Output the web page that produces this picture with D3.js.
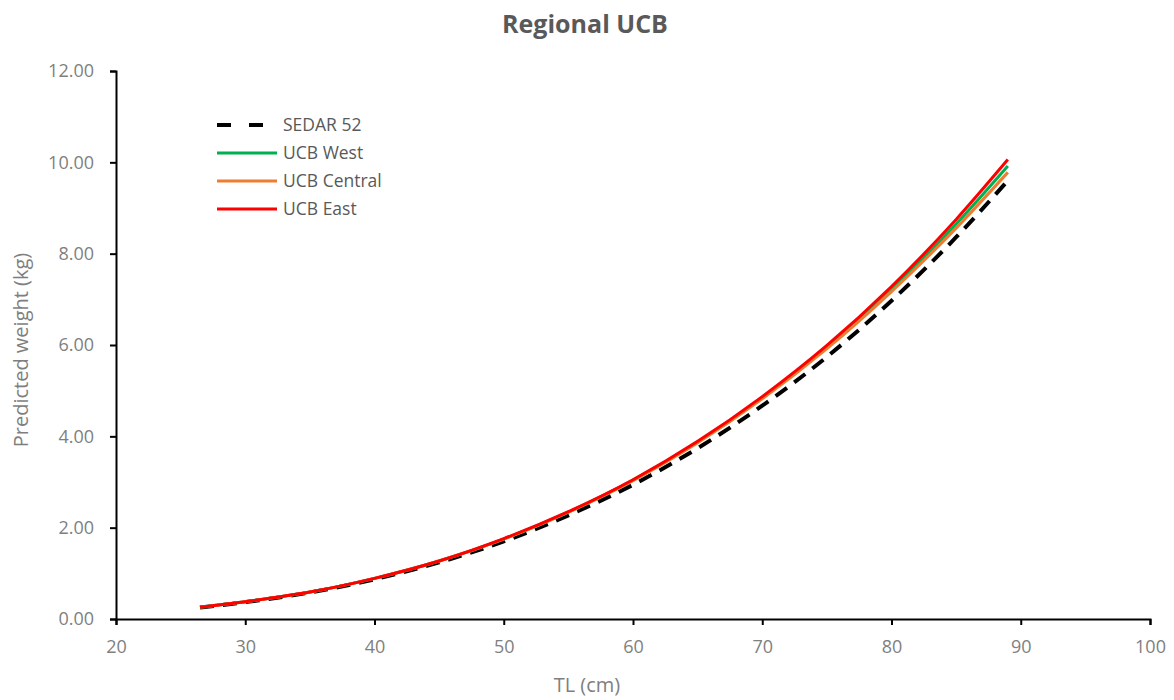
<!DOCTYPE html>
<html>
  <head>
    <meta charset="UTF-8">
    <title>Regional UCB</title>
    <style>
      body { margin: 0; background: #fff; }
      text { font-family: "Open Sans", sans-serif; }
      .tick text { fill: #7f7f7f; font-size: 18px; }
      .tick line, .domain { stroke: #000; stroke-width: 2; }
    </style>
  </head>
  <body>
    <div id="chart"></div>
    <script src="https://d3js.org/d3.v7.min.js"></script>
    <script>
      // total length (cm) where values were read
      const tl = [26.5, 30, 35, 40, 45, 50, 55, 60, 65, 70, 75, 80, 85, 89];

      // predicted weight (kg)
      const sedar52 = [0.25, 0.37, 0.58, 0.87, 1.24, 1.70, 2.27, 2.94, 3.74, 4.67, 5.74, 6.97, 8.36, 9.60];
      const ucbWest = [0.26, 0.38, 0.59, 0.89, 1.27, 1.75, 2.34, 3.04, 3.87, 4.84, 5.96, 7.22, 8.65, 9.92];
      const ucbCentral = [0.26, 0.38, 0.59, 0.89, 1.27, 1.75, 2.34, 3.03, 3.86, 4.82, 5.92, 7.17, 8.56, 9.78];
      const ucbEast = [0.26, 0.38, 0.59, 0.89, 1.27, 1.76, 2.35, 3.05, 3.89, 4.87, 5.99, 7.28, 8.75, 10.06];

      const seriesNames = ["SEDAR 52", "UCB West", "UCB Central", "UCB East"];
      const seriesColors = ["#000000", "#00b050", "#ed7d31", "#ff0000"];

      const xTicks = [20, 30, 40, 50, 60, 70, 80, 90, 100];
      const yTicks = [0, 2, 4, 6, 8, 10, 12];

      const width = 1174, height = 700;
      const svg = d3.select("#chart").append("svg")
        .attr("width", width).attr("height", height);

      const x = d3.scaleLinear().domain([20, 100]).range([116, 1150]);
      const y = d3.scaleLinear().domain([0, 12]).range([619, 71]);

      svg.append("g")
        .attr("transform", `translate(0,${y(0)})`)
        .call(d3.axisBottom(x).tickValues(xTicks).tickSize(6).tickSizeOuter(6).tickPadding(12))
        .selectAll(".tick text").attr("dy", "0.9em");

      svg.append("g")
        .attr("transform", `translate(${x(20)},0)`)
        .call(d3.axisLeft(y).tickValues(yTicks).tickSize(6).tickSizeOuter(6).tickPadding(16).tickFormat(d3.format(".2f")));

      const allSeries = [sedar52, ucbWest, ucbCentral, ucbEast];
      const line = d3.line().x((d, i) => x(tl[i])).y(d => y(d)).curve(d3.curveMonotoneX);

      allSeries.forEach((s, k) => {
        svg.append("path")
          .datum(s)
          .attr("d", line)
          .attr("fill", "none")
          .attr("stroke", seriesColors[k])
          .attr("stroke-width", k === 0 ? 4 : 3)
          .attr("stroke-dasharray", k === 0 ? "14,9" : null);
      });

      // title and axis titles
      svg.append("text").attr("x", 585).attr("y", 33)
        .attr("text-anchor", "middle").attr("font-size", 25).attr("font-weight", "bold")
        .attr("fill", "#595959").text("Regional UCB");

      svg.append("text").attr("x", 587).attr("y", 692)
        .attr("text-anchor", "middle").attr("font-size", 20).attr("fill", "#7f7f7f")
        .text("TL (cm)");

      svg.append("text").attr("transform", "translate(28,350) rotate(-90)")
        .attr("text-anchor", "middle").attr("font-size", 20).attr("fill", "#7f7f7f")
        .text("Predicted weight (kg)");

      // legend
      const legend = svg.append("g").selectAll("g").data(seriesNames).join("g")
        .attr("transform", (d, i) => `translate(217,${125 + i * 28})`);
      legend.append("line")
        .attr("x1", 0).attr("x2", 60).attr("y1", 0).attr("y2", 0)
        .attr("stroke", (d, i) => seriesColors[i])
        .attr("stroke-width", (d, i) => i === 0 ? 4 : 3)
        .attr("stroke-dasharray", (d, i) => i === 0 ? "14,18" : null);
      legend.append("text")
        .attr("x", 66).attr("y", 6).attr("font-size", 17.5).attr("fill", "#595959")
        .text(d => d);
    </script>
  </body>
</html>
